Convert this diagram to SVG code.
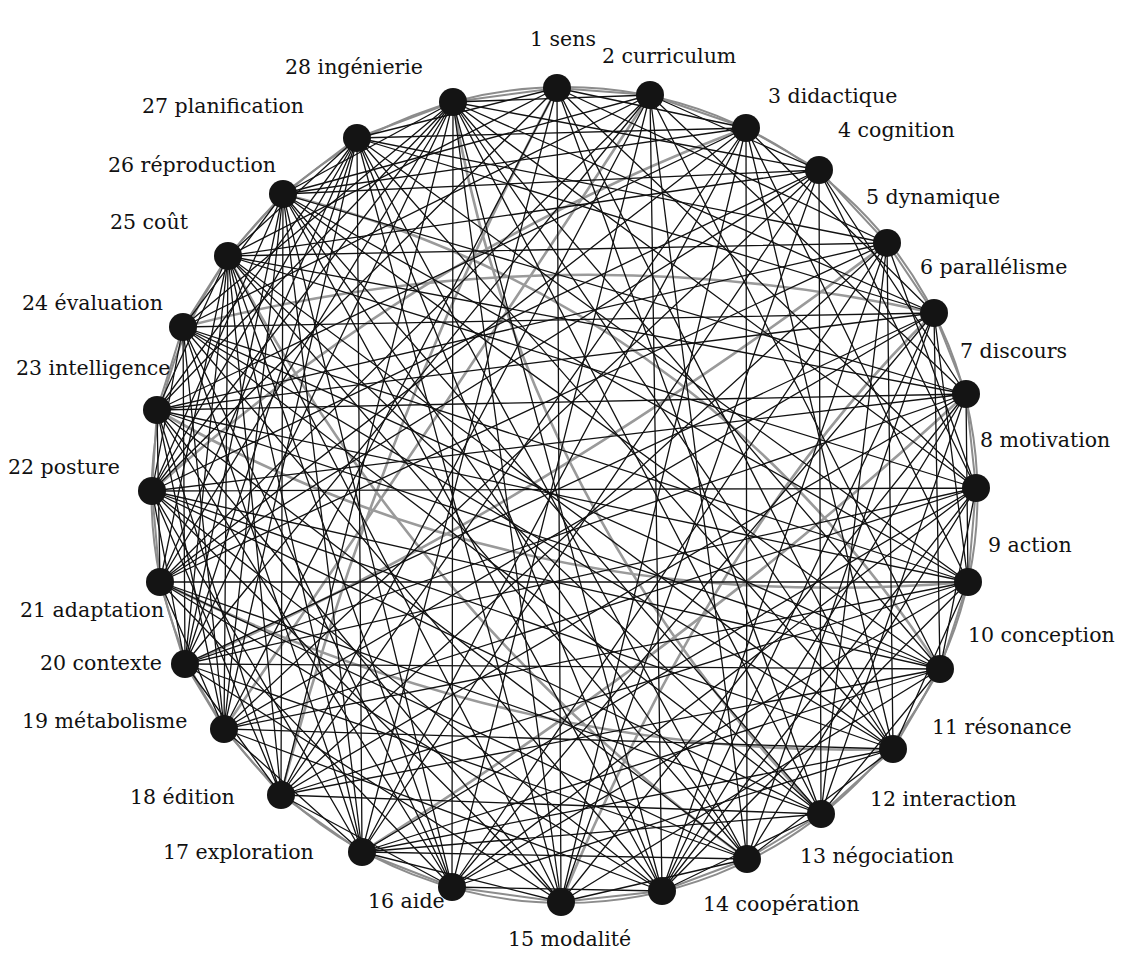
<svg xmlns="http://www.w3.org/2000/svg" width="1123" height="953" viewBox="0 0 1123 953">
  <style>
    .ring { fill: none; stroke: #8c8c8c; stroke-width: 2; }
    .arc { fill: none; stroke: #9a9a9a; stroke-width: 2.6; }
    .e { fill: none; stroke: #111; stroke-width: 1.3; }
    .node { fill: #141414; }
    .lbl { font-family: "DejaVu Serif", "Liberation Serif", serif; font-size: 20.5px; fill: #111; }
  </style>
  <defs>
    <filter id="soft" x="-5%" y="-5%" width="110%" height="110%">
      <feGaussianBlur stdDeviation="0.7"/>
    </filter>
  </defs>
  <rect width="1123" height="953" fill="#ffffff"/>

  <!-- outer ring: ellipse plus the chords between neighbouring concepts -->
  <g id="ring">
    <ellipse class="ring" cx="564.5" cy="495" rx="413" ry="408"/>
    <polygon class="ring" points="557,88 650,95 746,128 819,170 887,243 934,313 966,394 976,488 968,582 940,669 893,749 821,814 747,859 662,891 561,902 452,887 362,852 281,795 224,729 185,664 160,582 152,491 157,410 183,327 228,256 283,194 357,138 453,102"/>
  </g>

  <g id="connectors">
    <!-- soft grey curved links -->
    <g filter="url(#soft)">
      <path class="arc" d="M183 327Q560 230 934 313"/>
      <path class="arc" d="M157 410Q520 620 968 582"/>
      <path class="arc" d="M283 194Q700 300 940 669"/>
      <path class="arc" d="M453 102Q520 500 821 814"/>
      <path class="arc" d="M650 95Q450 400 224 729"/>
      <path class="arc" d="M887 243Q520 520 185 664"/>
      <path class="arc" d="M160 582Q520 760 893 749"/>
      <path class="arc" d="M362 852Q700 640 966 394"/>
      <path class="arc" d="M228 256Q420 620 747 859"/>
      <path class="arc" d="M557 88Q380 420 281 795"/>
      <path class="arc" d="M746 128Q420 250 152 491"/>
      <path class="arc" d="M561 902Q720 520 934 313"/>
    </g>
    <!-- straight links, grouped by their first concept -->
    <path class="e" d="M557 88L746 128M557 88L887 243M557 88L976 488M557 88L893 749M557 88L561 902M557 88L224 729M557 88L152 491M557 88L228 256M557 88L357 138M557 88L821 814M557 88L362 852"/>
    <path class="e" d="M650 95L819 170M650 95L966 394M650 95L940 669M650 95L747 859M650 95L452 887M650 95L185 664M650 95L183 327M650 95L453 102M650 95L662 891M650 95L160 582M650 95L281 795M650 95L283 194"/>
    <path class="e" d="M746 128L934 313M746 128L968 582M746 128L747 859M746 128L362 852M746 128L160 582M746 128L157 410M746 128L283 194M746 128L357 138M746 128L893 749M746 128L281 795M746 128L561 902"/>
    <path class="e" d="M819 170L966 394M819 170L976 488M819 170L821 814M819 170L561 902M819 170L224 729M819 170L152 491M819 170L228 256M819 170L453 102M819 170L283 194M819 170L362 852M819 170L160 582"/>
    <path class="e" d="M887 243L976 488M887 243L893 749M887 243L662 891M887 243L281 795M887 243L160 582M887 243L228 256M887 243L357 138M887 243L452 887M887 243L157 410M887 243L821 814"/>
    <path class="e" d="M934 313L968 582M934 313L940 669M934 313L747 859M934 313L452 887M934 313L185 664M934 313L157 410M934 313L183 327M934 313L453 102M934 313L224 729M934 313L357 138M934 313L662 891"/>
    <path class="e" d="M966 394L968 582M966 394L821 814M966 394L561 902M966 394L281 795M966 394L152 491M966 394L157 410M966 394L283 194M966 394L185 664M966 394L228 256M966 394L662 891"/>
    <path class="e" d="M976 488L940 669M976 488L747 859M976 488L362 852M976 488L185 664M976 488L152 491M976 488L228 256M976 488L453 102M976 488L662 891M976 488L452 887M976 488L224 729"/>
    <path class="e" d="M968 582L893 749M968 582L662 891M968 582L452 887M968 582L224 729M968 582L160 582M968 582L183 327M968 582L357 138M968 582L283 194M968 582L281 795M968 582L157 410"/>
    <path class="e" d="M940 669L821 814M940 669L561 902M940 669L281 795M940 669L185 664M940 669L157 410M940 669L283 194M940 669L453 102M940 669L183 327M940 669L362 852M940 669L152 491"/>
    <path class="e" d="M893 749L747 859M893 749L452 887M893 749L224 729M893 749L152 491M893 749L228 256M893 749L357 138M893 749L362 852M893 749L453 102M893 749L183 327"/>
    <path class="e" d="M821 814L662 891M821 814L362 852M821 814L281 795M821 814L160 582M821 814L183 327M821 814L283 194M821 814L453 102M821 814L152 491M821 814L228 256"/>
    <path class="e" d="M747 859L561 902M747 859L362 852M747 859L185 664M747 859L157 410M747 859L228 256M747 859L357 138M747 859L160 582M747 859L283 194"/>
    <path class="e" d="M662 891L452 887M662 891L224 729M662 891L160 582M662 891L183 327M662 891L283 194M662 891L453 102M662 891L152 491M662 891L357 138"/>
    <path class="e" d="M561 902L362 852M561 902L185 664M561 902L152 491M561 902L228 256M561 902L357 138M561 902L157 410M561 902L453 102"/>
    <path class="e" d="M452 887L281 795M452 887L160 582M452 887L157 410M452 887L283 194M452 887L453 102M452 887L183 327M452 887L228 256"/>
    <path class="e" d="M362 852L224 729M362 852L152 491M362 852L183 327M362 852L357 138M362 852L228 256M362 852L283 194"/>
    <path class="e" d="M281 795L185 664M281 795L157 410M281 795L228 256M281 795L283 194M281 795L453 102M281 795L152 491"/>
    <path class="e" d="M224 729L160 582M224 729L183 327M224 729L283 194M224 729L357 138M224 729L228 256M224 729L157 410"/>
    <path class="e" d="M185 664L152 491M185 664L183 327M185 664L357 138M185 664L453 102M185 664L283 194M185 664L228 256"/>
    <path class="e" d="M160 582L157 410M160 582L228 256M160 582L453 102M160 582L357 138"/>
    <path class="e" d="M152 491L183 327M152 491L283 194M152 491L357 138M152 491L453 102"/>
    <path class="e" d="M157 410L228 256M157 410L357 138M157 410L453 102"/>
    <path class="e" d="M183 327L283 194M183 327L453 102"/>
    <path class="e" d="M228 256L357 138"/>
    <path class="e" d="M283 194L453 102"/>
  </g>

  <g id="n1"><circle class="node" cx="557" cy="88" r="14"/><text class="lbl" x="530" y="46">1 sens</text></g>
  <g id="n2"><circle class="node" cx="650" cy="95" r="14"/><text class="lbl" x="602" y="63">2 curriculum</text></g>
  <g id="n3"><circle class="node" cx="746" cy="128" r="14"/><text class="lbl" x="768" y="103">3 didactique</text></g>
  <g id="n4"><circle class="node" cx="819" cy="170" r="14"/><text class="lbl" x="838" y="137">4 cognition</text></g>
  <g id="n5"><circle class="node" cx="887" cy="243" r="14"/><text class="lbl" x="866" y="204">5 dynamique</text></g>
  <g id="n6"><circle class="node" cx="934" cy="313" r="14"/><text class="lbl" x="920" y="274">6 parallélisme</text></g>
  <g id="n7"><circle class="node" cx="966" cy="394" r="14"/><text class="lbl" x="960" y="358">7 discours</text></g>
  <g id="n8"><circle class="node" cx="976" cy="488" r="14"/><text class="lbl" x="980" y="447">8 motivation</text></g>
  <g id="n9"><circle class="node" cx="968" cy="582" r="14"/><text class="lbl" x="988" y="552">9 action</text></g>
  <g id="n10"><circle class="node" cx="940" cy="669" r="14"/><text class="lbl" x="968" y="642">10 conception</text></g>
  <g id="n11"><circle class="node" cx="893" cy="749" r="14"/><text class="lbl" x="932" y="734">11 résonance</text></g>
  <g id="n12"><circle class="node" cx="821" cy="814" r="14"/><text class="lbl" x="870" y="806">12 interaction</text></g>
  <g id="n13"><circle class="node" cx="747" cy="859" r="14"/><text class="lbl" x="800" y="863">13 négociation</text></g>
  <g id="n14"><circle class="node" cx="662" cy="891" r="14"/><text class="lbl" x="703" y="911">14 coopération</text></g>
  <g id="n15"><circle class="node" cx="561" cy="902" r="14"/><text class="lbl" x="508" y="946">15 modalité</text></g>
  <g id="n16"><circle class="node" cx="452" cy="887" r="14"/><text class="lbl" x="368" y="908">16 aide</text></g>
  <g id="n17"><circle class="node" cx="362" cy="852" r="14"/><text class="lbl" x="163" y="859">17 exploration</text></g>
  <g id="n18"><circle class="node" cx="281" cy="795" r="14"/><text class="lbl" x="130" y="804">18 édition</text></g>
  <g id="n19"><circle class="node" cx="224" cy="729" r="14"/><text class="lbl" x="22" y="728">19 métabolisme</text></g>
  <g id="n20"><circle class="node" cx="185" cy="664" r="14"/><text class="lbl" x="40" y="670">20 contexte</text></g>
  <g id="n21"><circle class="node" cx="160" cy="582" r="14"/><text class="lbl" x="20" y="617">21 adaptation</text></g>
  <g id="n22"><circle class="node" cx="152" cy="491" r="14"/><text class="lbl" x="8" y="474">22 posture</text></g>
  <g id="n23"><circle class="node" cx="157" cy="410" r="14"/><text class="lbl" x="16" y="375">23 intelligence</text></g>
  <g id="n24"><circle class="node" cx="183" cy="327" r="14"/><text class="lbl" x="22" y="310">24 évaluation</text></g>
  <g id="n25"><circle class="node" cx="228" cy="256" r="14"/><text class="lbl" x="110" y="229">25 coût</text></g>
  <g id="n26"><circle class="node" cx="283" cy="194" r="14"/><text class="lbl" x="108" y="172">26 réproduction</text></g>
  <g id="n27"><circle class="node" cx="357" cy="138" r="14"/><text class="lbl" x="142" y="113">27 planification</text></g>
  <g id="n28"><circle class="node" cx="453" cy="102" r="14"/><text class="lbl" x="285" y="74">28 ingénierie</text></g>
</svg>
